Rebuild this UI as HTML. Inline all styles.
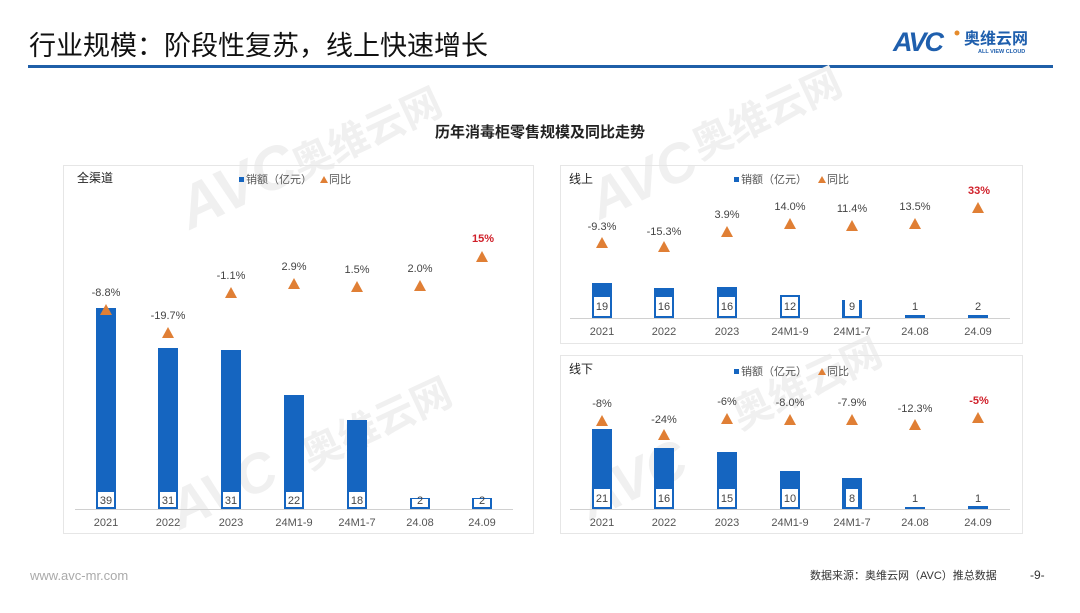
<!DOCTYPE html>
<html><head><meta charset="utf-8">
<style>
html,body{margin:0;padding:0;background:#fff;}
body{width:1080px;height:608px;overflow:hidden;position:relative;font-family:"Liberation Sans","Noto Sans CJK SC",sans-serif;}
svg text{font-family:"Liberation Sans","Noto Sans CJK SC",sans-serif;}
</style></head><body>
<svg width="1080" height="608" viewBox="0 0 1080 608" xmlns="http://www.w3.org/2000/svg">
<text x="29" y="55" font-size="27" fill="#111">行业规模：阶段性复苏，线上快速增长</text>
<rect x="28" y="65" width="1025" height="3" fill="#1f5fa8"/>
<text x="893" y="51" font-size="27" font-weight="bold" fill="#1f5fad" font-style="italic" letter-spacing="-2">AVC</text>
<circle cx="957" cy="33" r="2.5" fill="#e58b2c"/>
<text x="964" y="44" font-size="16" font-weight="bold" fill="#1f5fad">奥维云网</text>
<text x="978" y="53" font-size="5.5" fill="#1f5fad" font-weight="bold">ALL VIEW CLOUD</text>

<g fill="#f0f0f0" font-weight="bold">
<text x="190" y="230" font-size="60" transform="rotate(-25 190 230)" font-style="italic">AVC</text>
<text x="300" y="180" font-size="40" transform="rotate(-25 300 180)">奥维云网</text>
<text x="700" y="160" font-size="40" transform="rotate(-25 700 160)">奥维云网</text>
<text x="600" y="220" font-size="55" transform="rotate(-25 600 220)" font-style="italic">AVC</text>
<text x="310" y="470" font-size="40" transform="rotate(-25 310 470)">奥维云网</text>
<text x="180" y="530" font-size="55" transform="rotate(-25 180 530)" font-style="italic">AVC</text>
<text x="740" y="430" font-size="40" transform="rotate(-25 740 430)">奥维云网</text>
<text x="590" y="520" font-size="55" transform="rotate(-25 590 520)" font-style="italic">AVC</text>
</g>

<text x="540" y="137" font-size="15" font-weight="bold" fill="#222" text-anchor="middle">历年消毒柜零售规模及同比走势</text>

<rect x="63.5" y="165.5" width="470" height="368" fill="none" stroke="#e6e6e6"/>
<rect x="560.5" y="165.5" width="462" height="178" fill="none" stroke="#e6e6e6"/>
<rect x="560.5" y="355.5" width="462" height="178" fill="none" stroke="#e6e6e6"/>

<g font-size="11" fill="#555">
<text x="77" y="182" font-size="12" fill="#222">全渠道</text>
<rect x="239" y="177" width="5" height="5" fill="#1565c0"/><text x="246" y="183">销额（亿元）</text>
<path d="M320 183 L324 176 L328 183Z" fill="#e07f35"/><text x="329" y="183">同比</text>
<line x1="75" y1="509.5" x2="513" y2="509.5" stroke="#d0d0d0"/>
<g fill="#1565c0">
<rect x="96" y="308" width="20" height="201"/>
<rect x="158" y="348" width="20" height="161"/>
<rect x="221" y="350" width="20" height="159"/>
<rect x="284" y="395" width="20" height="114"/>
<rect x="347" y="420" width="20" height="89"/>
<rect x="410" y="498" width="20" height="11"/>
<rect x="472" y="498" width="20" height="11"/>
</g>
<g fill="#fff">
<rect x="98" y="492" width="16" height="15"/>
<rect x="160" y="492" width="16" height="15"/>
<rect x="223" y="492" width="16" height="15"/>
<rect x="286" y="492" width="16" height="15"/>
<rect x="349" y="492" width="16" height="15"/>
<rect x="412" y="499" width="16" height="8"/>
<rect x="474" y="499" width="16" height="8"/>
</g>
<g text-anchor="middle" fill="#444">
<text x="106" y="504">39</text><text x="168" y="504">31</text><text x="231" y="504">31</text>
<text x="294" y="504">22</text><text x="357" y="504">18</text><text x="420" y="504">2</text><text x="482" y="504">2</text>
</g>
<g fill="#e07f35">
<path d="M100 315 L106 304 L112 315Z"/><path d="M162 338 L168 327 L174 338Z"/>
<path d="M225 298 L231 287 L237 298Z"/><path d="M288 289 L294 278 L300 289Z"/>
<path d="M351 292 L357 281 L363 292Z"/><path d="M414 291 L420 280 L426 291Z"/>
<path d="M476 262 L482 251 L488 262Z"/>
</g>
<g text-anchor="middle" fill="#444">
<text x="106" y="296">-8.8%</text><text x="168" y="319">-19.7%</text><text x="231" y="279">-1.1%</text>
<text x="294" y="270">2.9%</text><text x="357" y="273">1.5%</text><text x="420" y="272">2.0%</text>
<text x="483" y="242" fill="#d0202a" font-weight="bold">15%</text>
</g>
<g text-anchor="middle" fill="#555">
<text x="106" y="526">2021</text><text x="168" y="526">2022</text><text x="231" y="526">2023</text>
<text x="294" y="526">24M1-9</text><text x="357" y="526">24M1-7</text><text x="420" y="526">24.08</text><text x="482" y="526">24.09</text>
</g>

<text x="569" y="183" font-size="12" fill="#222">线上</text>
<rect x="734" y="177" width="5" height="5" fill="#1565c0"/><text x="741" y="183">销额（亿元）</text>
<path d="M818 183 L822 176 L826 183Z" fill="#e07f35"/><text x="827" y="183">同比</text>
<line x1="570" y1="318.5" x2="1010" y2="318.5" stroke="#d0d0d0"/>
<g fill="#1565c0">
<rect x="592" y="283" width="20" height="35"/>
<rect x="654" y="288" width="20" height="30"/>
<rect x="717" y="287" width="20" height="31"/>
<rect x="780" y="295" width="20" height="23"/>
<rect x="842" y="300" width="20" height="18"/>
<rect x="905" y="315" width="20" height="3"/>
<rect x="968" y="315" width="20" height="3"/>
</g>
<g fill="#fff">
<rect x="594" y="297" width="16" height="19"/>
<rect x="656" y="297" width="16" height="19"/>
<rect x="719" y="297" width="16" height="19"/>
<rect x="782" y="297" width="16" height="19"/>
<rect x="845" y="300" width="14" height="16"/>
</g>
<g text-anchor="middle" fill="#444">
<text x="602" y="310">19</text><text x="664" y="310">16</text><text x="727" y="310">16</text>
<text x="790" y="310">12</text><text x="852" y="310">9</text><text x="915" y="310">1</text><text x="978" y="310">2</text>
</g>
<g fill="#e07f35">
<path d="M596 248 L602 237 L608 248Z"/><path d="M658 252 L664 241 L670 252Z"/>
<path d="M721 237 L727 226 L733 237Z"/><path d="M784 229 L790 218 L796 229Z"/>
<path d="M846 231 L852 220 L858 231Z"/><path d="M909 229 L915 218 L921 229Z"/>
<path d="M972 213 L978 202 L984 213Z"/>
</g>
<g text-anchor="middle" fill="#444">
<text x="602" y="230">-9.3%</text><text x="664" y="235">-15.3%</text><text x="727" y="218">3.9%</text>
<text x="790" y="210">14.0%</text><text x="852" y="212">11.4%</text><text x="915" y="210">13.5%</text>
<text x="979" y="194" fill="#d0202a" font-weight="bold">33%</text>
</g>
<g text-anchor="middle" fill="#555">
<text x="602" y="335">2021</text><text x="664" y="335">2022</text><text x="727" y="335">2023</text>
<text x="790" y="335">24M1-9</text><text x="852" y="335">24M1-7</text><text x="915" y="335">24.08</text><text x="978" y="335">24.09</text>
</g>

<text x="569" y="373" font-size="12" fill="#222">线下</text>
<rect x="734" y="369" width="5" height="5" fill="#1565c0"/><text x="741" y="375">销额（亿元）</text>
<path d="M818 375 L822 368 L826 375Z" fill="#e07f35"/><text x="827" y="375">同比</text>
<line x1="570" y1="509.5" x2="1010" y2="509.5" stroke="#d0d0d0"/>
<g fill="#1565c0">
<rect x="592" y="429" width="20" height="80"/>
<rect x="654" y="448" width="20" height="61"/>
<rect x="717" y="452" width="20" height="57"/>
<rect x="780" y="471" width="20" height="38"/>
<rect x="842" y="478" width="20" height="31"/>
<rect x="905" y="507" width="20" height="2"/>
<rect x="968" y="506" width="20" height="3"/>
</g>
<g fill="#fff">
<rect x="594" y="489" width="16" height="18"/>
<rect x="656" y="489" width="16" height="18"/>
<rect x="719" y="489" width="16" height="18"/>
<rect x="782" y="489" width="16" height="18"/>
<rect x="846" y="489" width="12" height="18"/>
</g>
<g text-anchor="middle" fill="#444">
<text x="602" y="502">21</text><text x="664" y="502">16</text><text x="727" y="502">15</text>
<text x="790" y="502">10</text><text x="852" y="502">8</text><text x="915" y="502">1</text><text x="978" y="502">1</text>
</g>
<g fill="#e07f35">
<path d="M596 426 L602 415 L608 426Z"/><path d="M658 440 L664 429 L670 440Z"/>
<path d="M721 424 L727 413 L733 424Z"/><path d="M784 425 L790 414 L796 425Z"/>
<path d="M846 425 L852 414 L858 425Z"/><path d="M909 430 L915 419 L921 430Z"/>
<path d="M972 423 L978 412 L984 423Z"/>
</g>
<g text-anchor="middle" fill="#444">
<text x="602" y="407">-8%</text><text x="664" y="423">-24%</text><text x="727" y="405">-6%</text>
<text x="790" y="406">-8.0%</text><text x="852" y="406">-7.9%</text><text x="915" y="412">-12.3%</text>
<text x="979" y="404" fill="#d0202a" font-weight="bold">-5%</text>
</g>
<g text-anchor="middle" fill="#555">
<text x="602" y="526">2021</text><text x="664" y="526">2022</text><text x="727" y="526">2023</text>
<text x="790" y="526">24M1-9</text><text x="852" y="526">24M1-7</text><text x="915" y="526">24.08</text><text x="978" y="526">24.09</text>
</g>
</g>

<text x="30" y="580" font-size="13" fill="#aaa">www.avc-mr.com</text>
<text x="810" y="579" font-size="11" fill="#333">数据来源：奥维云网（AVC）推总数据</text>
<text x="1030" y="579" font-size="12" fill="#333">-9-</text>
</svg>
</body></html>
